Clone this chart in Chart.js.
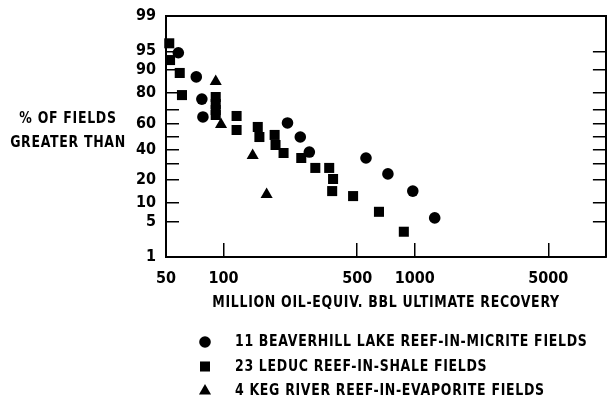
<!DOCTYPE html>
<html>
<head>
<meta charset="utf-8">
<script src="https://cdn.jsdelivr.net/npm/chart.js@4/dist/chart.umd.min.js"></script>
<style>
  html, body { margin: 0; padding: 0; background: #fff; }
  canvas { display: block; }
</style>
</head>
<body>
<canvas id="chart" width="613" height="401"></canvas>
<script>
// values (x = million bbl, y = % of fields greater than)
const circleX = [58, 72, 77, 78, 216, 252, 281, 556, 724, 977, 1272];
const circleY = [94.7, 87.5, 76.5, 64.7, 60.3, 49.6, 38.2, 33.9, 23.5, 14.6, 5.8];

const squareX = [52, 52.5, 59, 60.6, 91, 91, 91, 91, 117, 117, 151, 154, 185, 187, 206, 255, 302, 357, 374, 370, 476, 650, 877];
const squareY = [96.4, 93.0, 89.0, 78.8, 77.7, 73.5, 69.5, 66.1, 65.4, 55.0, 57.3, 49.6, 51.2, 43.5, 37.5, 33.9, 27.2, 27.2, 20.6, 14.6, 12.5, 7.3, 3.3];

const triangleX = [91, 97, 142, 168];
const triangleY = [85.6, 59.2, 35.7, 13.1];

const seriesLabels = [
  "11 BEAVERHILL LAKE REEF-IN-MICRITE FIELDS",
  "23 LEDUC REEF-IN-SHALE FIELDS",
  "4 KEG RIVER REEF-IN-EVAPORITE FIELDS"
];

const xTicks = [50, 100, 500, 1000, 5000];
const yTickMarks = [1, 5, 10, 20, 30, 40, 50, 60, 70, 80, 90, 95, 99];
const yTickLabels = [1, 5, 10, 20, 40, 60, 80, 90, 95, 99];

const xTitle = "MILLION OIL-EQUIV. BBL ULTIMATE RECOVERY";
const yTitle = ["% OF FIELDS", "GREATER THAN"];

const FAMILY = '"Liberation Sans Narrow", "DejaVu Sans Condensed", "Roboto Condensed", sans-serif';
const TEXT_SX = 0.87; // squeeze for the condensed lettering

// inverse normal cdf (Acklam), used by the probability axis
function probit(p) {
  const a = [-3.969683028665376e+01, 2.209460984245205e+02, -2.759285104469687e+02, 1.383577518672690e+02, -3.066479806614716e+01, 2.506628277459239e+00];
  const b = [-5.447609879822406e+01, 1.615858368580409e+02, -1.556989798598866e+02, 6.680131188771972e+01, -1.328068155288572e+01];
  const c = [-7.784894002430293e-03, -3.223964580411365e-01, -2.400758277161838e+00, -2.549671348583270e+00, 4.374664141464968e+00, 2.938163982698783e+00];
  const d = [7.784695709041462e-03, 3.224671290700398e-01, 2.445134137142996e+00, 3.754408661907416e+00];
  const plow = 0.02425;
  let q, r;
  if (p < plow) {
    q = Math.sqrt(-2 * Math.log(p));
    return (((((c[0]*q+c[1])*q+c[2])*q+c[3])*q+c[4])*q+c[5]) / ((((d[0]*q+d[1])*q+d[2])*q+d[3])*q+1);
  }
  if (p > 1 - plow) {
    q = Math.sqrt(-2 * Math.log(1 - p));
    return -(((((c[0]*q+c[1])*q+c[2])*q+c[3])*q+c[4])*q+c[5]) / ((((d[0]*q+d[1])*q+d[2])*q+d[3])*q+1);
  }
  q = p - 0.5;
  r = q * q;
  return (((((a[0]*r+a[1])*r+a[2])*r+a[3])*r+a[4])*r+a[5])*q / (((((b[0]*r+b[1])*r+b[2])*r+b[3])*r+b[4])*r+1);
}

// normal probability axis (percent)
class ProbabilityScale extends Chart.LinearScale {
  static id = 'probability';
  static defaults = {};

  determineDataLimits() {
    this.min = this.options.min ?? 1;
    this.max = this.options.max ?? 99;
  }
  buildTicks() {
    return yTickMarks.map(v => ({ value: v }));
  }
  configure() {
    super.configure();
    this._zmin = probit(this.min / 100);
    this._zmax = probit(this.max / 100);
  }
  getPixelForValue(value) {
    return this.getPixelForDecimal((probit(value / 100) - this._zmin) / (this._zmax - this._zmin));
  }
  getValueForPixel(pixel) {
    const z = this._zmin + this.getDecimalForPixel(pixel) * (this._zmax - this._zmin);
    let lo = 0.0001, hi = 0.9999;
    for (let i = 0; i < 40; i++) {
      const mid = (lo + hi) / 2;
      if (probit(mid) < z) lo = mid; else hi = mid;
    }
    return lo * 100;
  }
}
Chart.register(ProbabilityScale);

const toPoints = (xs, ys) => xs.map((x, i) => ({ x: x, y: ys[i] }));

const tickFont = { family: FAMILY, size: 16, weight: 'bold' };

function squeezedText(ctx, text, x, y, align) {
  ctx.save();
  ctx.translate(x, y);
  ctx.scale(TEXT_SX, 1);
  ctx.textAlign = align;
  ctx.fillText(text, 0, 0);
  ctx.restore();
}

const decorations = {
  id: 'decorations',
  afterDraw(chart) {
    const ctx = chart.ctx;
    ctx.save();
    ctx.fillStyle = '#000';
    ctx.strokeStyle = '#000';
    ctx.font = 'bold 16px ' + FAMILY;
    ctx.letterSpacing = '0.8px';
    ctx.textBaseline = 'middle';
    yTitle.forEach((line, i) => squeezedText(ctx, line, 68, 119 + i * 23.5, 'center'));
    squeezedText(ctx, xTitle, 386, 303, 'center');

    chart.data.datasets.forEach((ds, i) => {
      const y = 342 + i * 24.5;
      Chart.helpers.drawPoint(ctx, {
        pointStyle: ds.pointStyle, radius: ds.pointRadius, rotation: 0, borderWidth: 0
      }, 205, y);
      squeezedText(ctx, ds.label, 235, y, 'left');
    });
    ctx.restore();
  }
};

const noVerticalPadding = s => { s.paddingTop = 0; s.paddingBottom = 0; };

new Chart(document.getElementById('chart'), {
  type: 'scatter',
  data: {
    datasets: [
      { label: seriesLabels[0], data: toPoints(circleX, circleY), pointStyle: 'circle', pointRadius: 5.8 },
      { label: seriesLabels[1], data: toPoints(squareX, squareY), pointStyle: 'rect', pointRadius: 7.1 },
      { label: seriesLabels[2], data: toPoints(triangleX, triangleY), pointStyle: 'triangle', pointRadius: 7 }
    ].map(ds => Object.assign(ds, {
      backgroundColor: '#000', borderColor: '#000', borderWidth: 0,
      pointHoverRadius: ds.pointRadius, clip: false, xAxisID: 'x', yAxisID: 'y'
    }))
  },
  options: {
    responsive: false,
    animation: false,
    devicePixelRatio: 1,
    layout: { padding: { left: 0, right: 5, top: 16, bottom: 0 } },
    plugins: { legend: { display: false }, tooltip: { enabled: false } },
    scales: {
      x: {
        type: 'logarithmic', position: 'bottom', min: 50, max: 10000,
        afterBuildTicks: s => { s.ticks = xTicks.map(v => ({ value: v })); },
        ticks: { callback: v => String(v), font: tickFont, color: '#000', padding: 26, maxRotation: 0, autoSkip: false },
        grid: { drawOnChartArea: false, tickLength: -14, color: '#000', lineWidth: 1.5 },
        border: { color: '#000', width: 2 },
        afterFit: s => { s.height = 144; }
      },
      xTop: {
        type: 'logarithmic', position: 'top', min: 50, max: 10000,
        ticks: { display: false },
        grid: { display: false },
        border: { color: '#000', width: 2 },
        afterFit: s => { s.height = 0; }
      },
      y: {
        type: 'probability', position: 'left', min: 1, max: 99,
        ticks: {
          callback: v => yTickLabels.includes(v) ? String(v) : '',
          font: tickFont, color: '#000', padding: 23, autoSkip: false
        },
        grid: { drawOnChartArea: false, tickLength: -13, color: '#000', lineWidth: 1.5 },
        border: { color: '#000', width: 2 },
        afterFit: s => { s.width = 166; noVerticalPadding(s); }
      },
      yRight: {
        type: 'probability', position: 'right', min: 1, max: 99,
        ticks: { display: false, autoSkip: false },
        grid: { drawOnChartArea: false, tickLength: -13, color: '#000', lineWidth: 1.5 },
        border: { color: '#000', width: 2 },
        afterFit: s => { s.width = 0; noVerticalPadding(s); }
      }
    }
  },
  plugins: [decorations]
});
</script>
</body>
</html>
